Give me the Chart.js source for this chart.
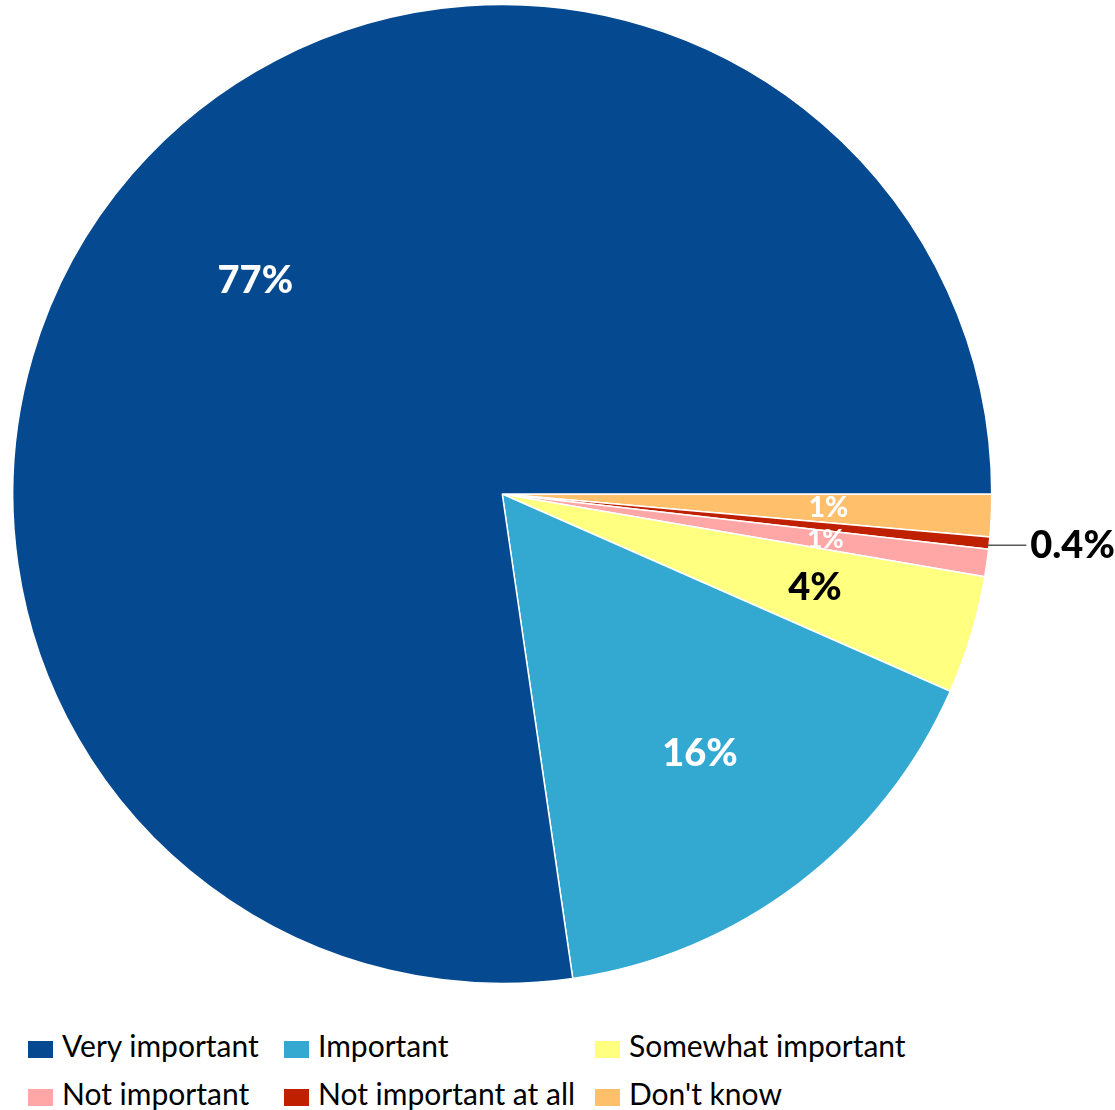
<!DOCTYPE html>
<html>
<head>
<meta charset="utf-8">
<script src="https://cdn.jsdelivr.net/npm/chart.js@4"></script>
<style>
  body { margin: 0; background: #fff; }
  #wrap { position: relative; width: 1115px; height: 1110px; }
  #myChart { position: absolute; left: 0; top: 0; }
  .legend-item {
    position: absolute;
    font-family: Lato, "Liberation Sans", sans-serif;
    font-size: 30px;
    color: #000;
    white-space: nowrap;
    line-height: 34px;
  }
  .legend-box {
    display: inline-block;
    width: 25px;
    height: 17px;
    margin-right: 9px;
    vertical-align: -1px;
  }
</style>
</head>
<body>
<div id="wrap">
  <canvas id="myChart" width="1115" height="990"></canvas>
  <div id="legend"></div>
</div>
<script>
// survey answers, legend order
var categories = ["Very important", "Important", "Somewhat important", "Not important", "Not important at all", "Don't know"];
var shares = [77.3, 16.1, 3.9, 0.9, 0.4, 1.4];
var colors = ["#054A91", "#33A9D1", "#FFFF80", "#FFA6A6", "#BF2000", "#FFBF6B"];

// label look per slice
var labelColors = ["#fff", "#fff", "#000", "#fff", "#000", "#fff"];
var labelSizes = [38, 38, 38, 26, 38, 28];
var labelOutside = [false, false, false, false, true, false];

function fmt(v) {
  return (v < 0.5 ? v.toFixed(1) : Math.round(v)) + "%";
}

// Excel draws the slices counterclockwise from 3 o'clock, chart.js goes clockwise,
// so hand the data over reversed
var revLabels = categories.slice().reverse();
var revData = shares.slice().reverse();
var revColors = colors.slice().reverse();

var sliceLabels = {
  id: "sliceLabels",
  afterDatasetsDraw: function (chart) {
    var ctx = chart.ctx;
    var meta = chart.getDatasetMeta(0);
    var n = categories.length;
    meta.data.forEach(function (arc, j) {
      var i = n - 1 - j; // back to legend order
      var p = arc.getProps(["x", "y", "startAngle", "endAngle", "outerRadius"], true);
      var mid = (p.startAngle + p.endAngle) / 2;
      ctx.save();
      ctx.font = "900 " + labelSizes[i] + "px Lato, 'Liberation Sans', sans-serif";
      ctx.fillStyle = labelColors[i];
      ctx.textBaseline = "middle";
      if (labelOutside[i]) {
        var ex = p.x + Math.cos(mid) * p.outerRadius;
        var ey = p.y + Math.sin(mid) * p.outerRadius + 2;
        ctx.strokeStyle = "#595959";
        ctx.lineWidth = 1.5;
        ctx.beginPath();
        ctx.moveTo(ex - 2, ey);
        ctx.lineTo(ex + 37, ey);
        ctx.stroke();
        ctx.textAlign = "left";
        ctx.fillText(fmt(shares[i]), ex + 41, ey + 1);
      } else {
        var r = p.outerRadius * 0.667;
        ctx.textAlign = "center";
        ctx.fillText(fmt(shares[i]), p.x + Math.cos(mid) * r, p.y + Math.sin(mid) * r);
      }
      ctx.restore();
    });
  }
};

new Chart("myChart", {
  type: "pie",
  data: {
    labels: revLabels,
    datasets: [
      {
        data: revData,
        backgroundColor: revColors,
        borderColor: "#fff",
        borderWidth: 1.5,
      },
    ],
  },
  options: {
    responsive: false,
    animation: false,
    rotation: 90,
    layout: {
      padding: { left: 12, right: 122.5, top: 0, bottom: 2 },
    },
    plugins: {
      legend: { display: false },
      tooltip: { enabled: false },
    },
  },
  plugins: [sliceLabels],
});

// legend laid out like the Excel grid: 3 columns, 2 rows
var colX = [28, 284, 595];
var rowY = [1028, 1076];
var legend = document.getElementById("legend");
categories.forEach(function (name, i) {
  var item = document.createElement("div");
  item.className = "legend-item";
  item.style.left = colX[i % 3] + "px";
  item.style.top = rowY[Math.floor(i / 3)] + "px";
  var box = document.createElement("span");
  box.className = "legend-box";
  box.style.background = colors[i];
  item.appendChild(box);
  item.appendChild(document.createTextNode(name));
  legend.appendChild(item);
});
</script>
</body>
</html>
